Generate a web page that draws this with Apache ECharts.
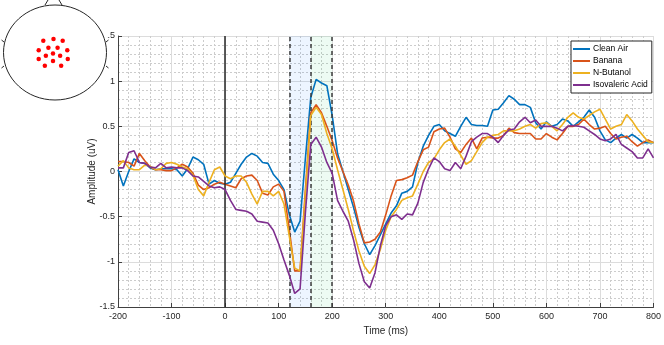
<!DOCTYPE html>
<html>
<head>
<meta charset="utf-8">
<script src="https://cdn.jsdelivr.net/npm/echarts@6/dist/echarts.min.js"></script>
<style>
  html, body { margin: 0; padding: 0; background: #fff; }
  #chart { width: 664px; height: 345px; }
</style>
</head>
<body>
<div id="chart"></div>
<script>
// sample times: -200 .. 800 ms, every 10 ms
const tStart = -200, tStep = 10;

const cleanAir = [
  0.02, -0.16, 0.0, 0.14, 0.1, 0.09, 0.04, 0.02, 0.03, 0.03,
  0.03, 0.02, -0.05, 0.03, 0.16, 0.13, 0.08, -0.14, -0.1, -0.13,
  -0.14, -0.12, -0.02, 0.08, 0.16, 0.2, 0.17, 0.1, 0.09, -0.03,
  -0.1, -0.2, -0.48, -0.67, -0.55, 0.15, 0.82, 1.02, 0.98, 0.95,
  0.62, 0.2, 0.0, -0.2, -0.4, -0.62, -0.8, -0.92, -0.82, -0.7,
  -0.58, -0.46, -0.38, -0.24, -0.22, -0.17, 0.1, 0.28, 0.4, 0.5,
  0.52, 0.45, 0.42, 0.39, 0.5, 0.6, 0.52, 0.51, 0.51, 0.5,
  0.68, 0.69, 0.76, 0.84, 0.8, 0.74, 0.74, 0.71, 0.54, 0.47,
  0.55, 0.5, 0.52, 0.58, 0.56, 0.5, 0.55, 0.6, 0.68, 0.6,
  0.45, 0.35, 0.32, 0.37, 0.41, 0.37, 0.41, 0.37, 0.32, 0.32,
  0.32
];
const banana = [
  0.11, 0.11, 0.1, 0.06, 0.2, 0.12, 0.05, 0.02, 0.02, 0.01,
  0.01, 0.04, 0.08, 0.05, -0.02, -0.15, -0.2, -0.18, -0.14, -0.12,
  -0.14, -0.16, -0.18, -0.08, -0.05, -0.04, -0.1, -0.24, -0.26, -0.17,
  -0.14, -0.22, -0.65, -1.1, -1.1, -0.2, 0.65, 0.74, 0.65, 0.5,
  0.34, 0.15, 0.0, -0.15, -0.33, -0.58, -0.79, -0.78, -0.75, -0.67,
  -0.48, -0.27, -0.1, -0.09, -0.07, -0.04, 0.11, 0.24, 0.27, 0.44,
  0.47, 0.48, 0.38, 0.25, 0.21, 0.3, 0.37, 0.25, 0.37, 0.38,
  0.37, 0.37, 0.4, 0.48, 0.43, 0.42, 0.42, 0.42, 0.36, 0.36,
  0.42, 0.38, 0.35, 0.42, 0.5, 0.5, 0.52, 0.58, 0.52, 0.47,
  0.48, 0.5, 0.42, 0.36, 0.38, 0.39, 0.33, 0.28, 0.32, 0.35,
  0.32
];
const nButanol = [
  0.06, 0.12, 0.04, 0.02, 0.02, 0.07, 0.06, 0.02, 0.03, 0.09,
  0.1, 0.08, 0.05, 0.03, -0.04, -0.2, -0.27, -0.12, 0.02, 0.05,
  -0.05, -0.08, -0.05, -0.05, -0.12, -0.25, -0.36, -0.22, -0.22, -0.27,
  -0.22, -0.36, -0.72, -1.07, -1.1, -0.25, 0.62, 0.71, 0.63, 0.42,
  0.25, 0.02, -0.2, -0.42, -0.66, -0.88, -1.05, -1.13, -1.03, -0.86,
  -0.65, -0.5, -0.42, -0.32, -0.29, -0.27, -0.14, 0.0, 0.1, 0.14,
  0.24, 0.32, 0.36, 0.28, 0.18, 0.08, 0.12, 0.22, 0.32, 0.38,
  0.4, 0.41, 0.45, 0.45, 0.45, 0.47, 0.5, 0.52, 0.48, 0.53,
  0.54, 0.5, 0.45, 0.52, 0.6, 0.65, 0.6, 0.58, 0.62, 0.66,
  0.69, 0.58, 0.47, 0.5, 0.52, 0.63, 0.56, 0.47, 0.4, 0.33,
  0.32
];
const isovalericAcid = [
  0.04, 0.04, 0.21, 0.23, 0.1, 0.09, 0.05, 0.04, 0.09, 0.04,
  0.05, 0.04, 0.04, 0.01, -0.05, -0.06, -0.11, -0.16, -0.18, -0.17,
  -0.2, -0.32, -0.42, -0.43, -0.44, -0.47, -0.55, -0.56, -0.57, -0.65,
  -0.8, -0.98, -1.15, -1.35, -1.3, -0.45, 0.3, 0.38, 0.27, 0.1,
  -0.02, -0.32, -0.44, -0.55, -0.76, -1.02, -1.22, -1.29, -1.12, -0.82,
  -0.6, -0.5, -0.48, -0.53, -0.47, -0.48, -0.35, -0.12, 0.03, 0.15,
  0.11, 0.03, 0.01, 0.1, 0.03, 0.17, 0.33, 0.38, 0.42, 0.42,
  0.38, 0.32, 0.4, 0.46, 0.47, 0.55, 0.6, 0.54, 0.57, 0.5,
  0.5, 0.5, 0.48, 0.45, 0.5, 0.51, 0.5, 0.49, 0.45, 0.41,
  0.36, 0.34, 0.36, 0.41, 0.3, 0.26, 0.22, 0.15, 0.15, 0.25,
  0.15
];

const seriesNames = ['Clean Air', 'Banana', 'N-Butanol', 'Isovaleric Acid'];
const seriesColors = ['#0072BD', '#D95319', '#EDB120', '#7E2F8E'];
const seriesValues = [cleanAir, banana, nButanol, isovalericAcid];

// analysis windows (ms) and marker lines
const windows = [[120, 160], [160, 200]];
const windowColors = ['rgba(0,114,255,0.07)', 'rgba(0,200,90,0.07)'];
const stimulusOnset = 0;
const windowEdges = [120, 160, 200];

// electrode positions on the head map (normalised, nose up)
const electrodes = [
  [-0.2, 0.26], [0.0, 0.3], [0.18, 0.26],
  [-0.1, 0.11], [0.08, 0.11],
  [-0.29, 0.06], [0.27, 0.06],
  [-0.01, -0.01],
  [-0.15, -0.06], [0.13, -0.06],
  [-0.29, -0.13], [0.28, -0.13],
  [-0.01, -0.17],
  [-0.17, -0.27], [0.15, -0.27]
];

const font = '"Liberation Sans", Arial, Helvetica, sans-serif';
const axisColor = '#404040';

const chart = echarts.init(document.getElementById('chart'));

const lineSeries = seriesValues.map((vals, i) => ({
  name: seriesNames[i],
  type: 'line',
  xAxisIndex: 0,
  yAxisIndex: 0,
  data: vals.map((v, k) => [tStart + k * tStep, v]),
  showSymbol: false,
  symbol: 'none',
  color: seriesColors[i],
  lineStyle: { width: 1.6, color: seriesColors[i] },
  z: 3 + i
}));

const option = {
  animation: false,
  backgroundColor: '#fff',
  textStyle: { fontFamily: font },
  grid: [
    { left: 118, right: 10, top: 36, bottom: 38 },
    { left: 2.5, top: 6, width: 102, height: 94 }
  ],
  legend: {
    data: seriesNames,
    orient: 'vertical',
    left: 571,
    top: 41,
    padding: [3, 4, 3, 2],
    itemGap: 2,
    itemWidth: 17,
    itemHeight: 2,
    icon: 'rect',
    backgroundColor: '#fff',
    borderColor: '#262626',
    borderWidth: 1,
    borderRadius: 0,
    textStyle: { fontFamily: font, fontSize: 8.5, color: '#000', lineHeight: 10, padding: [0, 0, 0, -2] }
  },
  xAxis: [
    {
      type: 'value', gridIndex: 0,
      min: -200, max: 800, interval: 100,
      name: 'Time (ms)', nameLocation: 'middle', nameGap: 18,
      nameTextStyle: { fontFamily: font, fontSize: 10, color: '#262626' },
      axisLine: { show: true, onZero: false, lineStyle: { color: axisColor, width: 1 } },
      axisTick: { show: true, inside: true, length: 4, lineStyle: { color: axisColor } },
      axisLabel: { fontFamily: font, fontSize: 9, color: '#262626', margin: 5 },
      splitLine: { show: true, lineStyle: { color: '#dcdcdc', width: 1 } },
      minorTick: { show: true, splitNumber: 5, length: 0 },
      minorSplitLine: { show: true, lineStyle: { color: '#cccccc', type: [2, 2], width: 1 } }
    },
    {
      type: 'value', gridIndex: 1, min: -1, max: 1, show: false
    }
  ],
  yAxis: [
    {
      type: 'value', gridIndex: 0,
      min: -1.5, max: 1.5, interval: 0.5,
      name: 'Amplitude (uV)', nameLocation: 'middle', nameGap: 21, nameRotate: 90,
      nameMoveOverlap: false,
      nameTextStyle: { fontFamily: font, fontSize: 10, color: '#262626' },
      axisLine: { show: true, onZero: false, lineStyle: { color: axisColor, width: 1 } },
      axisTick: { show: true, inside: true, length: 4, lineStyle: { color: axisColor } },
      axisLabel: { fontFamily: font, fontSize: 9, color: '#262626', margin: 3 },
      splitLine: { show: true, lineStyle: { color: '#dcdcdc', width: 1 } },
      minorTick: { show: true, splitNumber: 5, length: 0 },
      minorSplitLine: { show: true, lineStyle: { color: '#cccccc', type: [2, 2], width: 1 } }
    },
    {
      type: 'value', gridIndex: 1, min: -1, max: 1, show: false
    }
  ],
  series: [
    {
      name: 'windows',
      type: 'line',
      xAxisIndex: 0,
      yAxisIndex: 0,
      data: [],
      silent: true,
      z: 1,
      markArea: {
        silent: true,
        data: windows.map((w, i) => [
          { xAxis: w[0], itemStyle: { color: windowColors[i] } },
          { xAxis: w[1] }
        ])
      },
      markLine: {
        silent: true,
        symbol: 'none',
        label: { show: false },
        data: [
          { xAxis: stimulusOnset, lineStyle: { type: 'solid', color: '#262626', width: 1.5 } }
        ].concat(windowEdges.map(x => ({
          xAxis: x, lineStyle: { type: [4, 3], color: '#3c3c3c', width: 1.5 }
        })))
      }
    },
    ...lineSeries,
    {
      name: 'electrodes',
      type: 'scatter',
      xAxisIndex: 1,
      yAxisIndex: 1,
      data: electrodes,
      symbolSize: 4.5,
      itemStyle: { color: '#ff0000', opacity: 1 },
      silent: true,
      z: 20
    }
  ],
  graphic: [
    // white background of the head inset (hides the "1" of 1.5, as in the original)
    { type: 'rect', shape: { x: 0, y: 0, width: 107, height: 105 }, style: { fill: '#fff' }, z: 10, silent: true },
    { type: 'ellipse', shape: { cx: 55, cy: 52.5, rx: 51.5, ry: 47.5 }, style: { fill: 'none', stroke: '#262626', lineWidth: 1 }, z: 11, silent: true },
    // nose
    { type: 'polyline', shape: { points: [[45, 5], [48, 0]] }, style: { stroke: '#262626', lineWidth: 1 }, z: 11, silent: true },
    { type: 'polyline', shape: { points: [[59, 0], [62, 5]] }, style: { stroke: '#262626', lineWidth: 1 }, z: 11, silent: true },
    // ears
    { type: 'polyline', shape: { points: [[4, 42], [1.5, 40]] }, style: { stroke: '#262626', lineWidth: 1 }, z: 11, silent: true },
    { type: 'polyline', shape: { points: [[4, 66], [1.5, 68]] }, style: { stroke: '#262626', lineWidth: 1 }, z: 11, silent: true },
    { type: 'polyline', shape: { points: [[106, 42], [108.5, 40]] }, style: { stroke: '#262626', lineWidth: 1 }, z: 11, silent: true },
    { type: 'polyline', shape: { points: [[106, 66], [108.5, 68]] }, style: { stroke: '#262626', lineWidth: 1 }, z: 11, silent: true }
  ]
};

chart.setOption(option);
</script>
</body>
</html>
